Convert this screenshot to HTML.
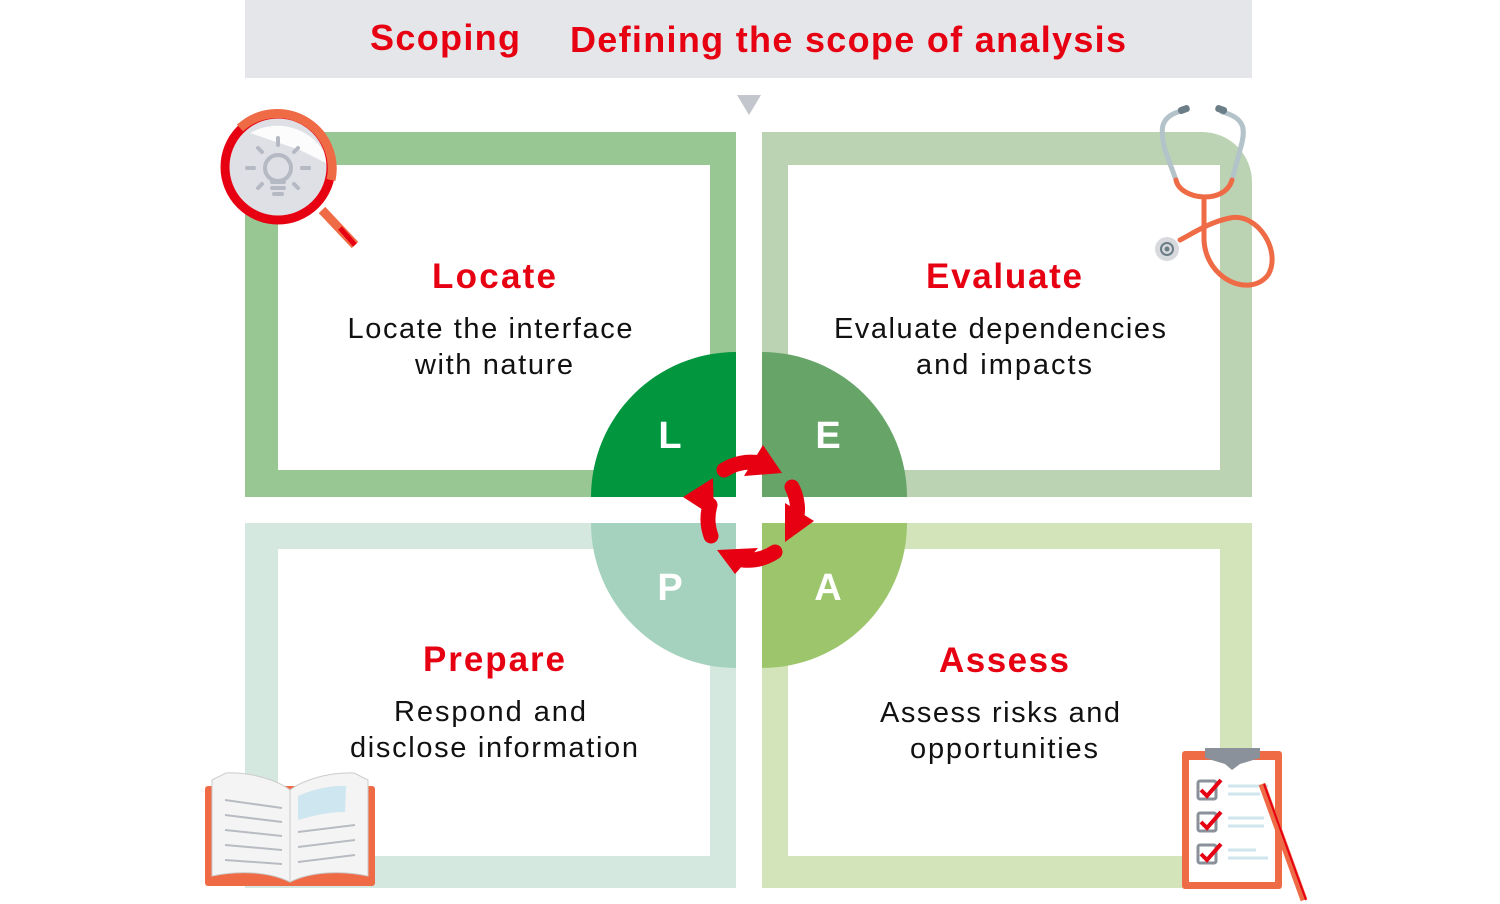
<!DOCTYPE html>
<html><head><meta charset="utf-8"><style>
html,body{margin:0;padding:0;background:#fff;}
svg{display:block;}
text{font-family:"Liberation Sans",Arial,sans-serif;}
</style></head><body>
<svg width="1500" height="904" viewBox="0 0 1500 904" xmlns="http://www.w3.org/2000/svg">
<rect x="245" y="0" width="1007" height="78" fill="#e5e6e9"/>
<text x="445" y="50" font-size="36" font-weight="bold" fill="#e60012" text-anchor="middle" textLength="150">Scoping</text>
<text x="848" y="52" font-size="36" font-weight="bold" fill="#e60012" text-anchor="middle" textLength="556">Defining the scope of analysis</text>
<polygon points="737,95 761,95 749,115" fill="#c3c6cc"/>

<path d="M245,132H736V497H245Z M278,165V470H710V165Z" fill="#99c794" fill-rule="evenodd"/>
<path d="M762,132H1202A50,50 0 0 1 1252,182V497H762Z M788,165V470H1220V165Z" fill="#bcd3b3" fill-rule="evenodd"/>
<path d="M245,523H736V888H245Z M278,549V856H710V549Z" fill="#d5e8e0" fill-rule="evenodd"/>
<path d="M762,523H1252V888H762Z M788,549V856H1220V549Z" fill="#d3e4ba" fill-rule="evenodd"/>

<path d="M736,352A145,145 0 0 0 591,497H736Z" fill="#02963f"/>
<path d="M762,352A145,145 0 0 1 907,497H762Z" fill="#67a468"/>
<path d="M736,668A145,145 0 0 1 591,523H736Z" fill="#a5d2be"/>
<path d="M762,668A145,145 0 0 0 907,523H762Z" fill="#9dc66c"/>
<text x="670" y="448" font-size="38" font-weight="bold" fill="#fff" text-anchor="middle">L</text>
<text x="828" y="448" font-size="38" font-weight="bold" fill="#fff" text-anchor="middle">E</text>
<text x="670" y="600" font-size="38" font-weight="bold" fill="#fff" text-anchor="middle">P</text>
<text x="828" y="600" font-size="38" font-weight="bold" fill="#fff" text-anchor="middle">A</text>

<g fill="none" stroke="#e60012" stroke-width="15" stroke-linecap="round">
<path d="M724,470A50,50 0 0 1 760,463"/>
<path d="M792,487A50,50 0 0 1 796,522"/>
<path d="M775,552A50,50 0 0 1 743,560"/>
<path d="M711,536A50,50 0 0 1 710,505"/>
</g>
<g fill="#e60012">
<polygon points="763,445 782,473 744,476"/>
<polygon points="814,521 785,542 785,503"/>
<polygon points="735,574 717,550 758,548"/>
<polygon points="683,497 713,478 714,517"/>
</g>

<g text-anchor="middle">
<text x="494" y="288" font-size="35" font-weight="bold" fill="#e60012" textLength="124">Locate</text>
<text x="490" y="338" font-size="29" fill="#111" textLength="285">Locate the interface</text>
<text x="494" y="374" font-size="29" fill="#111" textLength="158">with nature</text>
<text x="1004" y="288" font-size="35" font-weight="bold" fill="#e60012" textLength="156">Evaluate</text>
<text x="1000" y="338" font-size="29" fill="#111" textLength="332">Evaluate dependencies</text>
<text x="1004" y="374" font-size="29" fill="#111" textLength="176">and impacts</text>
<text x="494" y="671" font-size="35" font-weight="bold" fill="#e60012" textLength="142">Prepare</text>
<text x="490" y="721" font-size="29" fill="#111" textLength="192">Respond and</text>
<text x="494" y="757" font-size="29" fill="#111" textLength="288">disclose information</text>
<text x="1004" y="672" font-size="35" font-weight="bold" fill="#e60012" textLength="130">Assess</text>
<text x="1000" y="722" font-size="29" fill="#111" textLength="240">Assess risks and</text>
<text x="1004" y="758" font-size="29" fill="#111" textLength="188">opportunities</text>
</g>

<line x1="322" y1="210" x2="355" y2="245" stroke="#ee6b46" stroke-width="9"/>
<line x1="340" y1="228" x2="355" y2="245" stroke="#e60012" stroke-width="5"/>
<circle cx="278" cy="167" r="52" fill="#dfe0e5"/>
<path d="M250,133A55,55 0 0 1 330,165 L300,150 Z" fill="#fff" opacity="0.9"/>
<circle cx="278" cy="167" r="53" fill="none" stroke="#e60012" stroke-width="9"/>
<path d="M240,128A55,55 0 0 1 331,180" fill="none" stroke="#ee6b46" stroke-width="9"/>
<g stroke="#b4b9c3" stroke-width="4" stroke-linecap="round" fill="none">
<circle cx="278" cy="168" r="13"/>
<line x1="272" y1="182" x2="284" y2="182"/><line x1="272" y1="188" x2="284" y2="188"/><line x1="274" y1="194" x2="282" y2="194"/>
<line x1="278" y1="138" x2="278" y2="145"/><line x1="258" y1="148" x2="262" y2="152"/><line x1="298" y1="148" x2="294" y2="152"/>
<line x1="247" y1="168" x2="254" y2="168"/><line x1="302" y1="168" x2="309" y2="168"/>
<line x1="258" y1="188" x2="262" y2="184"/><line x1="298" y1="188" x2="294" y2="184"/>
</g>

<g fill="none" stroke-linecap="round">
<path d="M1178,112C1160,118 1160,130 1165,150L1176,180" stroke="#b4c3c9" stroke-width="5"/>
<path d="M1222,112C1246,118 1246,130 1240,150L1232,180" stroke="#b4c3c9" stroke-width="5"/>
<path d="M1176,180C1180,200 1225,205 1232,180" stroke="#ee6b46" stroke-width="5"/>
<path d="M1204,200V240C1206,280 1250,298 1268,275C1282,252 1258,212 1230,218C1210,222 1195,232 1180,240" stroke="#ee6b46" stroke-width="5"/>
</g>
<rect x="1178" y="106" width="12" height="7" rx="3" fill="#6b7d87" transform="rotate(-20 1184 110)"/>
<rect x="1215" y="106" width="12" height="7" rx="3" fill="#6b7d87" transform="rotate(20 1221 110)"/>
<circle cx="1167" cy="249" r="12" fill="#d7d9dc"/>
<circle cx="1167" cy="249" r="6" fill="none" stroke="#6b7d87" stroke-width="2"/>
<circle cx="1167" cy="249" r="2.5" fill="#6b7d87"/>

<rect x="205" y="786" width="170" height="100" rx="3" fill="#ee6b46"/>
<path d="M212,780L226,773C255,772 280,782 290,790L290,882C270,872 240,870 212,876Z" fill="#f4f4f4" stroke="#ccc"/>
<path d="M368,780L354,773C325,772 300,782 290,790L290,882C310,872 340,870 368,876Z" fill="#f4f4f4" stroke="#ccc"/>
<path d="M298,796C315,788 335,785 346,786L345,812C330,812 315,815 298,820Z" fill="#cde6f0"/>
<g stroke="#b8bcc2" stroke-width="2">
<line x1="225" y1="800" x2="282" y2="808"/><line x1="225" y1="815" x2="282" y2="822"/><line x1="225" y1="830" x2="282" y2="836"/><line x1="225" y1="845" x2="282" y2="850"/><line x1="225" y1="860" x2="282" y2="864"/>
<line x1="298" y1="832" x2="355" y2="825"/><line x1="298" y1="847" x2="355" y2="840"/><line x1="298" y1="862" x2="355" y2="855"/>
</g>

<rect x="1182" y="751" width="100" height="138" rx="3" fill="#ee6b46"/>
<rect x="1189" y="760" width="86" height="122" fill="#fff"/>
<path d="M1205,748H1260V758L1240,764L1232,770L1225,764L1205,758Z" fill="#8a919b"/>
<g fill="none" stroke="#8a919b" stroke-width="3">
<rect x="1198" y="781" width="18" height="18" rx="2"/><rect x="1198" y="813" width="18" height="18" rx="2"/><rect x="1198" y="845" width="18" height="18" rx="2"/>
</g>
<g fill="none" stroke="#e60012" stroke-width="4">
<path d="M1201,790L1207,796L1221,780"/><path d="M1201,822L1207,828L1221,812"/><path d="M1201,854L1207,860L1221,844"/>
</g>
<g stroke="#cfe6ef" stroke-width="3">
<line x1="1228" y1="786" x2="1268" y2="786"/><line x1="1228" y1="794" x2="1260" y2="794"/>
<line x1="1228" y1="818" x2="1264" y2="818"/><line x1="1228" y1="826" x2="1264" y2="826"/>
<line x1="1228" y1="850" x2="1256" y2="850"/><line x1="1228" y1="858" x2="1268" y2="858"/>
</g>
<line x1="1262" y1="784" x2="1304" y2="900" stroke="#ee6b46" stroke-width="7"/>
<line x1="1264" y1="784" x2="1306" y2="900" stroke="#e60012" stroke-width="2"/>
</svg>
</body></html>
